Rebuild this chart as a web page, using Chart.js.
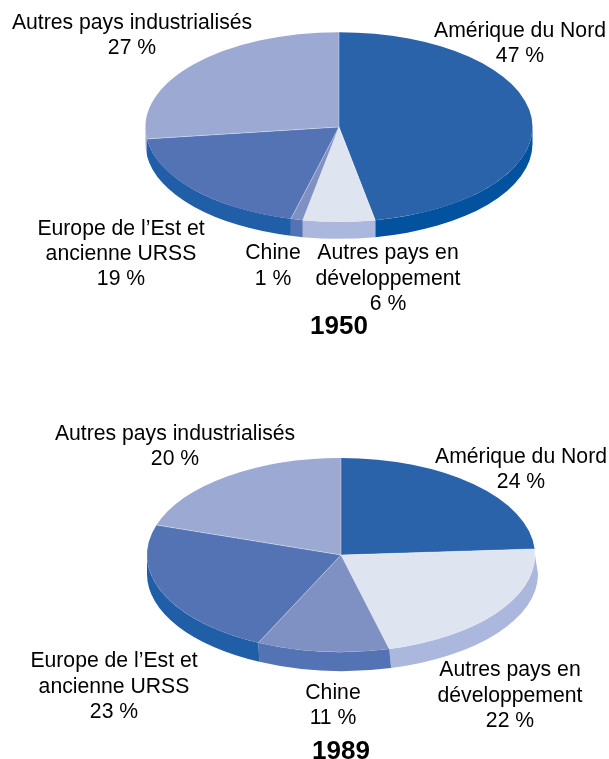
<!DOCTYPE html>
<html>
<head>
<meta charset="utf-8">
<script src="https://cdn.jsdelivr.net/npm/chart.js@4"></script>
<style>
  html, body { margin: 0; padding: 0; background: #fff; }
  canvas { position: absolute; left: 0; top: 0; }
</style>
</head>
<body>
<canvas id="pie1950" width="609" height="759"></canvas>
<canvas id="pie1989" width="609" height="759"></canvas>
<script>
var categories = ['Amérique du Nord', 'Autres pays en développement', 'Chine', 'Europe de l’Est et ancienne URSS', 'Autres pays industrialisés'];
var values1950 = [47, 6, 1, 19, 27];
var values1989 = [24, 22, 11, 23, 20];
var faceColors = ['#2b63aa', '#dfe4f1', '#7f90c3', '#5473b4', '#9ba9d3'];
var sideColors = ['#02529f', '#abb7dc', '#5473b4', '#205ea8', '#9ba9d3'];

// line breaks of each category label, same order as categories
var labelLines = [
    ['Amérique du Nord'],
    ['Autres pays en', 'développement'],
    ['Chine'],
    ['Europe de l’Est et', 'ancienne URSS'],
    ['Autres pays industrialisés']
];

// squashes the pie to an ellipse, adds the rim under it, writes the labels
var flatPie = {
    id: 'flatPie',
    beforeDatasetsDraw: function (chart, args, opts) {
        var ctx = chart.ctx;
        var arcs = chart.getDatasetMeta(0).data;
        ctx.save();
        arcs.forEach(function (arc, i) {
            var a0 = Math.max(arc.startAngle, 0);
            var a1 = Math.min(arc.endAngle, Math.PI);
            if (a1 <= a0) return;
            var r = arc.outerRadius;
            var ry = r * opts.squash;
            ctx.beginPath();
            ctx.ellipse(arc.x, arc.y, r, ry, 0, a0, a1);
            ctx.ellipse(arc.x + opts.sideShift, arc.y + opts.depth, r + opts.sideShift, ry, 0, a1, a0, true);
            ctx.closePath();
            ctx.fillStyle = sideColors[i];
            ctx.fill();
        });
        ctx.restore();
        var c = arcs[0];
        ctx.save();
        ctx.translate(c.x, c.y);
        ctx.scale(1, opts.squash);
        ctx.translate(-c.x, -c.y);
    },
    afterDatasetsDraw: function (chart, args, opts) {
        var ctx = chart.ctx;
        var arcs = chart.getDatasetMeta(0).data;
        // thin pale spokes between the slices
        ctx.strokeStyle = 'rgba(255,255,255,0.6)';
        ctx.lineWidth = 0.8;
        arcs.forEach(function (arc) {
            ctx.beginPath();
            ctx.moveTo(arc.x, arc.y);
            ctx.lineTo(arc.x + arc.outerRadius * Math.cos(arc.startAngle), arc.y + arc.outerRadius * Math.sin(arc.startAngle));
            ctx.stroke();
        });
        ctx.restore();

        var values = chart.data.datasets[0].data;
        ctx.save();
        ctx.fillStyle = '#000';
        ctx.textAlign = 'center';
        ctx.textBaseline = 'alphabetic';
        ctx.font = '21.2px "Liberation Sans", Arial, sans-serif';
        opts.labels.forEach(function (lab, i) {
            var lines = labelLines[i].concat(values[i] + ' %');
            lines.forEach(function (txt, k) {
                ctx.fillText(txt, lab.x, lab.y[k]);
            });
        });
        ctx.font = 'bold 26px "Liberation Sans", Arial, sans-serif';
        ctx.fillText(opts.year, opts.yearX, opts.yearY);
        ctx.restore();
    }
};

function makePie(id, values, radius, padding, opts) {
    return new Chart(document.getElementById(id), {
        type: 'pie',
        data: {
            labels: categories,
            datasets: [{
                data: values,
                backgroundColor: faceColors,
                borderWidth: 0,
                clip: false
            }]
        },
        options: {
            responsive: false,
            animation: false,
            radius: radius,
            layout: { padding: padding },
            plugins: {
                legend: { display: false },
                tooltip: { enabled: false },
                flatPie: opts
            }
        },
        plugins: [flatPie]
    });
}

makePie('pie1950', values1950, 193.5, { left: 69, top: 0, right: 0, bottom: 505 }, {
    squash: 0.49,
    depth: 17,
    sideShift: 0,
    year: '1950',
    yearX: 339,
    yearY: 334,
    labels: [
        { x: 520, y: [37, 62] },
        { x: 388, y: [259, 285, 310] },
        { x: 273, y: [259, 285] },
        { x: 121, y: [235, 260, 285] },
        { x: 132, y: [29, 54] }
    ]
});

makePie('pie1989', values1989, 194, { left: 73, top: 351, right: 0, bottom: 0 }, {
    squash: 0.5,
    depth: 19,
    sideShift: 1.5,
    year: '1989',
    yearX: 341,
    yearY: 759,
    labels: [
        { x: 521, y: [463, 488] },
        { x: 510, y: [676, 702, 727] },
        { x: 333, y: [699, 724] },
        { x: 114, y: [667, 693, 718] },
        { x: 175, y: [440, 465] }
    ]
});
</script>
</body>
</html>
